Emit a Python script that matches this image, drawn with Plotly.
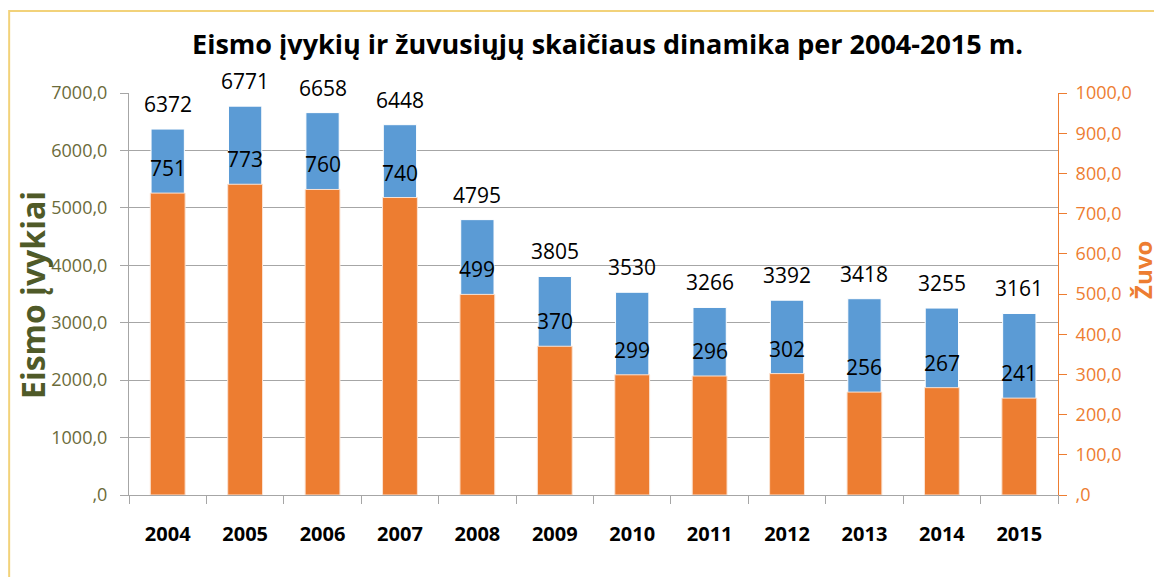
import plotly.graph_objects as go

years = ["2004", "2005", "2006", "2007", "2008", "2009", "2010", "2011", "2012", "2013", "2014", "2015"]
accidents = [6372, 6771, 6658, 6448, 4795, 3805, 3530, 3266, 3392, 3418, 3255, 3161]
deaths = [751, 773, 760, 740, 499, 370, 299, 296, 302, 256, 267, 241]

left_ticks = [0, 1000, 2000, 3000, 4000, 5000, 6000, 7000]
left_text = [",0", "1000,0", "2000,0", "3000,0", "4000,0", "5000,0", "6000,0", "7000,0"]
right_ticks = [0, 100, 200, 300, 400, 500, 600, 700, 800, 900, 1000]
right_text = [",0", "100,0", "200,0", "300,0", "400,0", "500,0", "600,0", "700,0", "800,0", "900,0", "1000,0"]

FONT = "Open Sans"
BLUE = "#5b9bd5"
ORANGE = "#ed7d31"

fig = go.Figure()
fig.add_trace(go.Bar(
    x=years, y=accidents, yaxis="y", name="Eismo įvykiai",
    marker=dict(color=BLUE, line=dict(color="white", width=1)),
    width=0.43,
))
fig.add_trace(go.Bar(
    x=years, y=deaths, yaxis="y2", name="Žuvo",
    marker=dict(color=ORANGE, line=dict(color="#fbe3d3", width=1)),
    width=0.45,
))

label_font = dict(size=21, color="black", family=FONT)
annotations = []
for i, v in enumerate(accidents):
    annotations.append(dict(x=i, y=v, xref="x", yref="y", text=str(v), showarrow=False,
                            yanchor="middle", yshift=25, font=label_font))
for i, v in enumerate(deaths):
    annotations.append(dict(x=i, y=v, xref="x", yref="y2", text=str(v), showarrow=False,
                            yanchor="middle", yshift=25, font=label_font))
annotations += [
    dict(text="<b>Eismo įvykiai</b>", xref="paper", yref="paper",
         x=-0.1044, y=0.4975, xanchor="center", yanchor="middle",
         textangle=-90, showarrow=False,
         font=dict(size=32, color="#4f5a28", family=FONT)),
    dict(text="<b>Žuvo</b>", xref="paper", yref="paper",
         x=1.0915, y=0.56, xanchor="center", yanchor="middle",
         textangle=-90, showarrow=False,
         font=dict(size=24, color=ORANGE, family=FONT)),
]

fig.update_layout(
    width=1154, height=569,
    margin=dict(l=121, r=104, t=85, b=82),
    paper_bgcolor="white", plot_bgcolor="white",
    showlegend=False, barmode="overlay",
    font=dict(family=FONT),
    title=dict(text="<b>Eismo įvykių ir žuvusiųjų skaičiaus dinamika per 2004-2015 m.</b>",
               x=0.5195, xanchor="center", y=0.935, yanchor="middle",
               font=dict(size=27, color="black", family=FONT)),
    xaxis=dict(
        type="category", categoryorder="array", categoryarray=years,
        range=[-0.5, len(years) - 0.5],
        tickson="boundaries", ticks="outside", ticklen=8,
        tickcolor="#a6a6a6", showline=True, linecolor="#a6a6a6", linewidth=1,
        tickfont=dict(size=20, color="black", family=FONT, weight="bold"),
        ticklabelstandoff=21,
        showgrid=False,
    ),
    yaxis=dict(
        range=[0, 7000], tickvals=left_ticks, ticktext=left_text,
        ticks="outside", ticklen=8, tickcolor="#a6a6a6",
        showline=True, linecolor="#a6a6a6", linewidth=1,
        gridcolor="#a6a6a6", gridwidth=1,
        tickfont=dict(size=18, color="#6b6b3a", family=FONT),
        ticklabelstandoff=9,
        zeroline=False,
    ),
    yaxis2=dict(
        range=[0, 1000], tickvals=right_ticks, ticktext=right_text,
        overlaying="y", side="right",
        ticks="outside", ticklen=8, tickcolor=ORANGE,
        showline=True, linecolor=ORANGE, linewidth=1, showgrid=False,
        tickfont=dict(size=18, color=ORANGE, family=FONT),
        ticklabelstandoff=5,
        zeroline=False,
    ),
    annotations=annotations,
    shapes=[dict(type="rect", xref="paper", yref="paper",
                 x0=-0.129, x1=1.2, y0=-0.4, y1=1.204,
                 line=dict(color="#f2d27a", width=2), layer="below")],
)

fig.write_html("out.html")
